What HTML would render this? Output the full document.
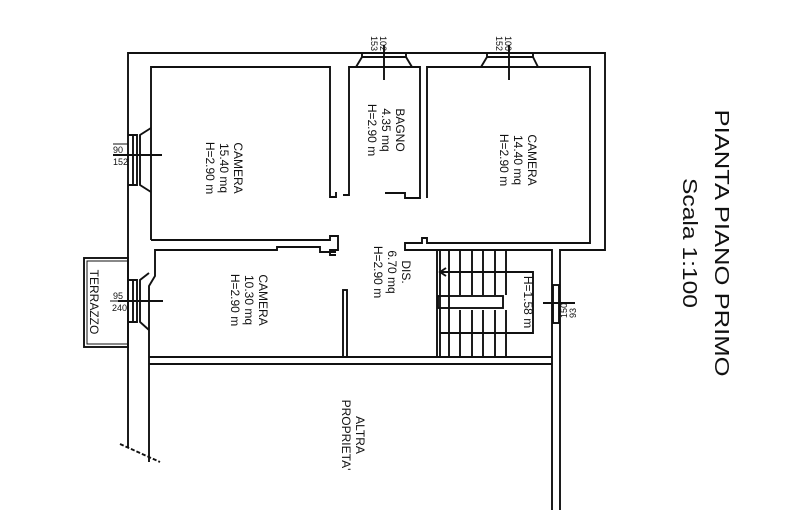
<!DOCTYPE html>
<html><head><meta charset="utf-8"><style>
html,body{margin:0;padding:0;background:#fff;width:800px;height:518px;overflow:hidden}
svg{display:block}
text{font-family:"Liberation Sans",sans-serif;fill:#111}
</style></head><body>
<svg width="800" height="518" viewBox="0 0 800 518" xmlns="http://www.w3.org/2000/svg">
<g fill="none" stroke="#111" stroke-width="1.9">
<polyline points="128,447 128,53 605,53 605,250 560,250 560,510"/>
<polyline points="151,240 151,67 330,67 330,197 336,197 336,192"/>
<polyline points="151,240 330,240 330,236 338,236 338,250 330,250 330,255 336,255"/>
<polyline points="343,195 349,195 349,67 420,67 420,198 405,198 405,193 385,193"/>
<polyline points="427,198 427,67 590,67 590,243 427,243 427,238 422,238 422,243 405,243 405,250 552,250 552,510"/>
<polyline points="149,462 149,286 155,276 155,250 277,250 277,247 320,247 320,252 336,252"/>
<line x1="149" y1="357" x2="552" y2="357"/>
<line x1="149" y1="364" x2="552" y2="364"/>
<rect x="343" y="290" width="4" height="67"/>
<line x1="437" y1="250" x2="437" y2="357"/>
<line x1="440" y1="250" x2="440" y2="357"/>
<line x1="449" y1="250" x2="449" y2="357"/>
<line x1="460" y1="250" x2="460" y2="295"/><line x1="460" y1="310" x2="460" y2="357"/>
<line x1="472" y1="250" x2="472" y2="295"/><line x1="472" y1="310" x2="472" y2="357"/>
<line x1="483" y1="250" x2="483" y2="295"/><line x1="483" y1="310" x2="483" y2="357"/>
<line x1="495" y1="250" x2="495" y2="295"/><line x1="495" y1="310" x2="495" y2="357"/>
<line x1="506" y1="250" x2="506" y2="295"/><line x1="506" y1="310" x2="506" y2="357"/>
<rect x="438" y="296" width="65" height="12"/>
<polyline points="440,272 533,272 533,333 440,333"/>
<polyline points="446,268 440,272 446,276"/>
<rect x="84" y="258" width="44" height="89"/>
<rect x="87" y="261" width="41" height="83" stroke-width="1"/>
<polyline points="128,135 137,135 137,185 128,185"/><line x1="133" y1="135" x2="133" y2="185"/>
<polyline points="151,128 140,135 140,185 151,192"/>
<line x1="113" y1="155" x2="162" y2="155"/>
<polyline points="128,280 137,280 137,322 128,322"/><line x1="133" y1="280" x2="133" y2="322"/>
<polyline points="149,273 140,280 140,322 149,330"/>
<line x1="118" y1="301" x2="163" y2="301"/>
<polyline points="362,53 362,57 406,57 406,53"/>
<line x1="356" y1="67" x2="362" y2="57"/><line x1="406" y1="57" x2="412" y2="67"/>
<line x1="384" y1="45" x2="384" y2="80"/>
<polyline points="487,53 487,57 533,57 533,53"/>
<line x1="481" y1="67" x2="487" y2="57"/><line x1="533" y1="57" x2="538" y2="67"/>
<line x1="509" y1="45" x2="509" y2="80"/>
<rect x="553" y="285" width="6" height="38"/>
<line x1="543" y1="303" x2="575" y2="303"/>
<line x1="113" y1="144" x2="128" y2="144" stroke-width="1"/>
<line x1="110" y1="301" x2="128" y2="301" stroke-width="1"/>
<line x1="120" y1="444" x2="160" y2="462" stroke-dasharray="4,2"/>
</g>
<g font-size="12">
<text transform="translate(234,168) rotate(90)" text-anchor="middle">CAMERA</text>
<text transform="translate(220,168) rotate(90)" text-anchor="middle">15.40 mq</text>
<text transform="translate(206,168) rotate(90)" text-anchor="middle">H=2.90 m</text>
<text transform="translate(396,130) rotate(90)" text-anchor="middle">BAGNO</text>
<text transform="translate(382,130) rotate(90)" text-anchor="middle">4.35 mq</text>
<text transform="translate(368,130) rotate(90)" text-anchor="middle">H=2.90 m</text>
<text transform="translate(528,160) rotate(90)" text-anchor="middle">CAMERA</text>
<text transform="translate(514,160) rotate(90)" text-anchor="middle">14.40 mq</text>
<text transform="translate(500,160) rotate(90)" text-anchor="middle">H=2.90 m</text>
<text transform="translate(259,300) rotate(90)" text-anchor="middle">CAMERA</text>
<text transform="translate(245,300) rotate(90)" text-anchor="middle">10.30 mq</text>
<text transform="translate(231,300) rotate(90)" text-anchor="middle">H=2.90 m</text>
<text transform="translate(402,272) rotate(90)" text-anchor="middle">DIS.</text>
<text transform="translate(388,272) rotate(90)" text-anchor="middle">6.70 mq</text>
<text transform="translate(374,272) rotate(90)" text-anchor="middle">H=2.90 m</text>
<text transform="translate(524,302) rotate(90)" text-anchor="middle">H=1.58 m</text>
<text transform="translate(356,435) rotate(90)" text-anchor="middle">ALTRA</text>
<text transform="translate(342,435) rotate(90)" text-anchor="middle">PROPRIETA'</text>
<text transform="translate(90,302) rotate(90)" text-anchor="middle">TERRAZZO</text>
</g>
<g font-size="9">
<text x="113" y="153">90</text><text x="113" y="165">152</text>
<text x="113" y="299">95</text><text x="112" y="311">240</text>
<text transform="translate(380,36) rotate(90)">102</text>
<text transform="translate(371,36) rotate(90)">153</text>
<text transform="translate(505,36) rotate(90)">100</text>
<text transform="translate(496,36) rotate(90)">152</text>
<text transform="translate(567,318) rotate(-90)">150</text>
<text transform="translate(576,318) rotate(-90)">93</text>
</g>
<text transform="translate(715,243) rotate(90)" text-anchor="middle" font-size="20" textLength="267" lengthAdjust="spacingAndGlyphs">PIANTA PIANO PRIMO</text>
<text transform="translate(683,243) rotate(90)" text-anchor="middle" font-size="20" textLength="130" lengthAdjust="spacingAndGlyphs">Scala 1:100</text>
</svg>
</body></html>
